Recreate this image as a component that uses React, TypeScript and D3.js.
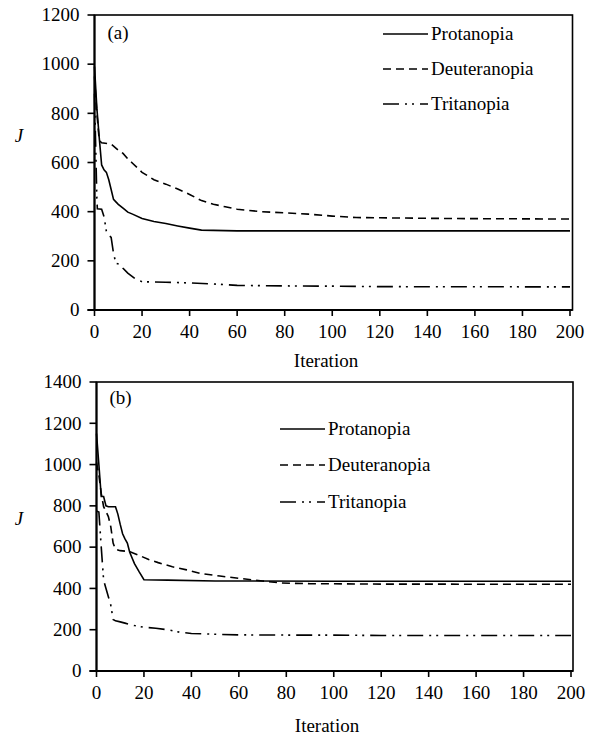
import * as d3 from 'd3'

// iteration -> J
const X_TICKS = [0, 20, 40, 60, 80, 100, 120, 140, 160, 180, 200]
const Y_TICKS_A = [0, 200, 400, 600, 800, 1000, 1200]
const Y_TICKS_B = [0, 200, 400, 600, 800, 1000, 1200, 1400]
const NAMES = ['Protanopia', 'Deuteranopia', 'Tritanopia']

const PROT_A = [[0, 990], [1, 820], [2, 700], [3, 590], [4, 570], [5, 560], [6, 530], [7, 490], [8, 450], [9, 440], [10, 430], [12, 414], [14, 398], [16, 390], [20, 372], [25, 360], [30, 352], [35, 342], [40, 333], [45, 325], [50, 324], [60, 322], [100, 322], [200, 322]]
const DEUT_A = [[0, 950], [1, 800], [2, 690], [3, 680], [7, 675], [10, 650], [12, 637], [14, 615], [16, 597], [20, 560], [25, 530], [30, 512], [35, 492], [40, 470], [45, 445], [50, 430], [55, 420], [60, 410], [70, 400], [80, 395], [90, 390], [100, 382], [110, 376], [120, 375], [150, 372], [200, 370]]
const TRIT_A = [[0, 880], [1, 450], [1.2, 412], [3, 410], [4, 380], [5, 320], [6, 305], [7, 295], [8, 230], [9, 190], [11, 185], [12, 170], [14, 150], [17, 128], [20, 115], [30, 113], [40, 110], [50, 106], [55, 103], [60, 100], [80, 98], [100, 97], [120, 95], [200, 94]]

const PROT_B = [[0, 1150], [1, 1000], [2, 845], [3, 845], [4, 800], [5, 796], [8, 796], [9, 760], [10, 710], [11, 665], [12, 640], [13, 620], [14, 575], [16, 520], [18, 480], [20, 442], [30, 440], [50, 436], [100, 435], [200, 435]]
const DEUT_B = [[0, 1010], [1, 950], [2, 860], [3, 796], [5, 748], [6, 700], [7, 620], [8, 590], [10, 583], [14, 578], [18, 560], [22, 540], [26, 525], [32, 505], [38, 490], [44, 472], [52, 460], [60, 449], [70, 436], [78, 426], [90, 423], [120, 421], [200, 420]]
const TRIT_B = [[0, 775], [1, 770], [2, 600], [3, 440], [4, 400], [5, 360], [6, 320], [7, 250], [8, 243], [10, 238], [12, 232], [16, 220], [20, 212], [25, 207], [30, 200], [35, 188], [40, 182], [50, 178], [60, 175], [80, 174], [100, 174], [120, 172], [200, 172]]

const FONT = "'Liberation Serif', 'DejaVu Serif', 'Times New Roman', serif"
const FS = 19
const DASH = [undefined, '8 5', '16 6 2 5 2 6']

function Panel({ series, yTicks, box, tag, legend }) {
  const x = d3.scaleLinear().domain([0, 200]).range([box.left, box.right])
  const y = d3.scaleLinear().domain([0, yTicks[yTicks.length - 1]]).range([box.bottom, box.top])
  const line = d3.line().x(d => x(d[0])).y(d => y(d[1]))

  return (
    <g style={{ fontFamily: FONT, fontSize: FS }} fill="#000">
      {/* plot frame */}
      <rect x={box.left} y={box.top} width={box.edge - box.left} height={box.bottom - box.top}
        fill="none" stroke="#000" strokeWidth={1.6} />

      {series.map((s, i) => (
        <path key={i} d={line(s)} fill="none" stroke="#000" strokeWidth={1.6}
          strokeDasharray={DASH[i]} />
      ))}

      {/* axes */}
      <line x1={box.left} x2={box.left} y1={box.top} y2={box.bottom} stroke="#000" strokeWidth={2} />
      <line x1={box.left - 7} x2={box.edge} y1={box.bottom} y2={box.bottom} stroke="#000" strokeWidth={2} />
      {yTicks.map(t => (
        <g key={t}>
          <line x1={box.left - 7} x2={box.left} y1={y(t)} y2={y(t)} stroke="#000" strokeWidth={1.6} />
          <text x={box.left - 15} y={y(t)} dy="0.33em" textAnchor="end">{t}</text>
        </g>
      ))}
      {X_TICKS.map(t => (
        <g key={t}>
          <line x1={x(t)} x2={x(t)} y1={box.bottom} y2={box.bottom + 6} stroke="#000" strokeWidth={1.6} />
          <text x={x(t)} y={box.bottom + 28} textAnchor="middle">{t}</text>
        </g>
      ))}

      <text x={box.titleX} y={box.titleY} textAnchor="middle">Iteration</text>
      <text x={19} y={box.jY} textAnchor="middle" fontStyle="italic">J</text>
      <text x={box.left + 13} y={box.tagY}>{tag}</text>

      {NAMES.map((n, i) => (
        <g key={n}>
          <line x1={legend.x} x2={legend.x + 45} y1={legend.ys[i] - 6} y2={legend.ys[i] - 6}
            stroke="#000" strokeWidth={1.6} strokeDasharray={DASH[i]} />
          <text x={legend.x + 48} y={legend.ys[i]}>{n}</text>
        </g>
      ))}
    </g>
  )
}

export default function App() {
  return (
    <div style={{ position: 'absolute', left: 0, top: 0 }}>
      <svg width={598} height={736} style={{ display: 'block', background: '#fff' }}>
        <Panel
          series={[PROT_A, DEUT_A, TRIT_A]}
          yTicks={Y_TICKS_A}
          tag="(a)"
          box={{ left: 94.5, right: 570, edge: 572.5, top: 15, bottom: 310, titleX: 326, titleY: 367, jY: 142, tagY: 39 }}
          legend={{ x: 383, ys: [40, 75, 110] }}
        />
        <Panel
          series={[PROT_B, DEUT_B, TRIT_B]}
          yTicks={Y_TICKS_B}
          tag="(b)"
          box={{ left: 96.5, right: 571, edge: 573, top: 382, bottom: 671, titleX: 327, titleY: 732, jY: 525, tagY: 404 }}
          legend={{ x: 280, ys: [435, 471, 508] }}
        />
      </svg>
    </div>
  )
}
